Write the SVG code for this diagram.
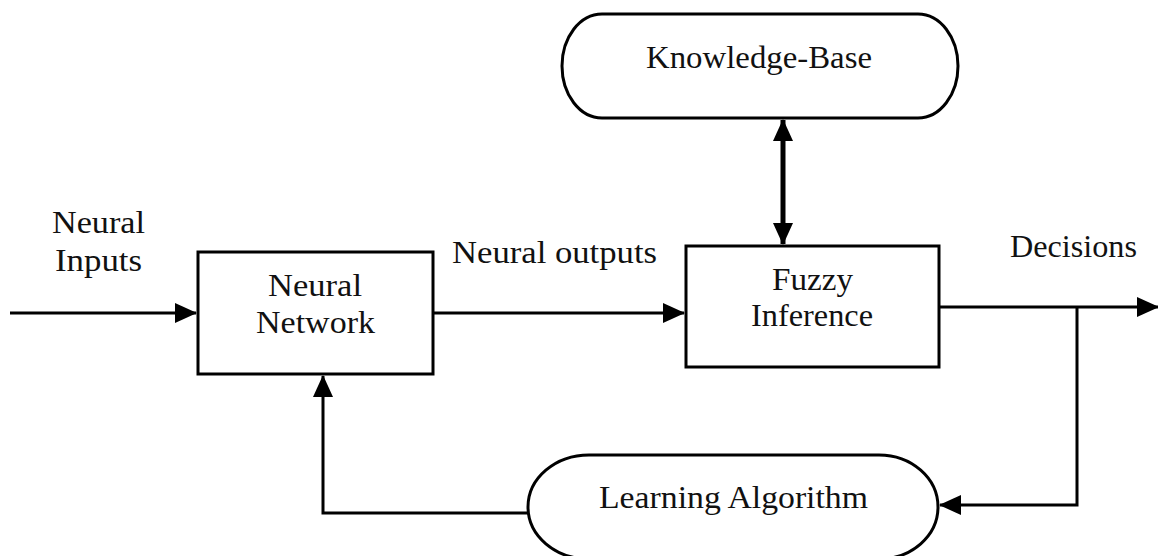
<svg xmlns="http://www.w3.org/2000/svg" width="1158" height="556" viewBox="0 0 1158 556">
<style>
.box{fill:#fff;stroke:#000;stroke-width:3}
.ln{fill:none;stroke:#000;stroke-width:3}
.thick{fill:none;stroke:#000;stroke-width:5}
text{font-family:"Liberation Serif","Times New Roman",serif;font-size:31px;fill:#111}
</style>
<defs>
<marker id="ah" markerUnits="userSpaceOnUse" markerWidth="22" markerHeight="22" viewBox="0 0 22 22" refX="21" refY="11" orient="auto-start-reverse">
<path d="M0,1 L22,11 L0,21 Z" fill="#000"/>
</marker>
</defs>
<rect width="1158" height="556" fill="#fff"/>
<g id="connectors">
<line class="ln" x1="10" y1="313" x2="196" y2="313" marker-end="url(#ah)"/>
<line class="ln" x1="433" y1="313" x2="684" y2="313" marker-end="url(#ah)"/>
<line class="ln" x1="939" y1="307" x2="1158" y2="307" marker-end="url(#ah)"/>
<line class="thick" x1="783" y1="120" x2="783" y2="244" marker-start="url(#ah)" marker-end="url(#ah)"/>
<polyline class="ln" points="1077,307 1077,505 940,505" marker-end="url(#ah)"/>
<polyline class="ln" points="528,513 323,513 323,376" marker-end="url(#ah)"/>
</g>
<g id="knowledge-base">
<path class="box" d="M602,14 H918 A40,52 0 0 1 918,118 H602 A40,52 0 0 1 602,14 Z"/>
<text x="759" y="68" text-anchor="middle" textLength="226" lengthAdjust="spacingAndGlyphs">Knowledge-Base</text>
</g>
<g id="neural-network">
<rect class="box" x="198" y="252" width="235" height="122"/>
<text x="315" y="296" text-anchor="middle" textLength="94" lengthAdjust="spacingAndGlyphs">Neural</text>
<text x="315.5" y="333" text-anchor="middle" textLength="119" lengthAdjust="spacingAndGlyphs">Network</text>
</g>
<g id="fuzzy-inference">
<rect class="box" x="686" y="246" width="253" height="121"/>
<text x="812.5" y="290" text-anchor="middle" textLength="81" lengthAdjust="spacingAndGlyphs">Fuzzy</text>
<text x="812" y="326" text-anchor="middle" textLength="122" lengthAdjust="spacingAndGlyphs">Inference</text>
</g>
<g id="learning-algorithm">
<path class="box" d="M589,455 H879 A59,52 0 0 1 879,559 H589 A61,52 0 0 1 589,455 Z"/>
<text x="733.5" y="508" text-anchor="middle" textLength="269" lengthAdjust="spacingAndGlyphs">Learning Algorithm</text>
</g>
<g id="labels">
<text x="98.5" y="233" text-anchor="middle" textLength="93" lengthAdjust="spacingAndGlyphs">Neural</text>
<text x="98.5" y="271" text-anchor="middle" textLength="87" lengthAdjust="spacingAndGlyphs">Inputs</text>
<text x="554.5" y="263" text-anchor="middle" textLength="205" lengthAdjust="spacingAndGlyphs">Neural outputs</text>
<text x="1073.5" y="257" text-anchor="middle" textLength="127" lengthAdjust="spacingAndGlyphs">Decisions</text>
</g>
</svg>
